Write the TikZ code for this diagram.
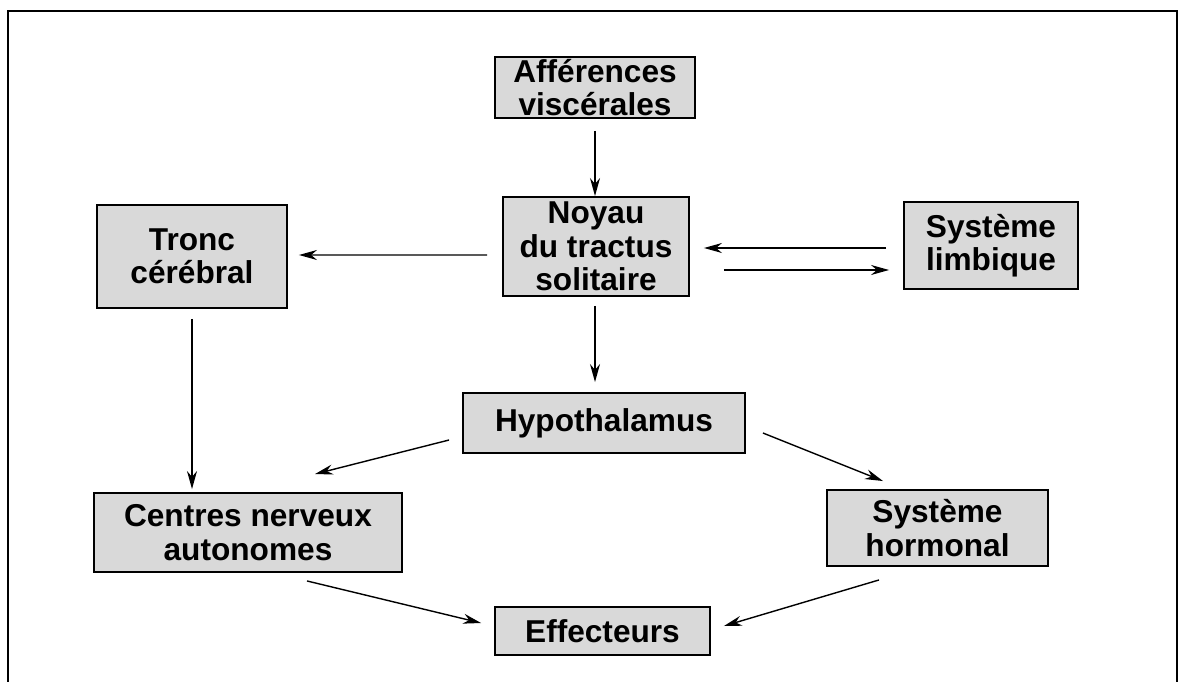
\documentclass[tikz,border=0pt]{standalone}
\usepackage{fontspec}
\setmainfont{Liberation Sans}
\usetikzlibrary{arrows.meta,calc}
\tikzset{
    BX1/.style ={rectangle, draw=black, line width=1.1pt, fill=black!15, align=center, inner sep=0pt, font=\fontsize{18}{19}\selectfont\bfseries},
    AR1/.style ={line width=0.8pt, -{Stealth[length=0.36cm,width=0.2cm]}}
}

\begin{document}
\begin{tikzpicture}[x=0.02cm,y=-0.02cm]
        \useasboundingbox (0,0) rectangle (1179,682);
        \draw[line width=1pt] (8,682)--(8,11)--(1177,11)--(1177,682);
        \node[BX1, minimum width=4cm, minimum height=1.22cm] (aff) at (595,87.5) {Afférences\\viscérales};
        \node[BX1, minimum width=3.72cm, minimum height=1.98cm] (noyau) at (596,246.5) {Noyau\\du tractus\\solitaire};
        \node[BX1, minimum width=3.48cm, minimum height=1.74cm] (limb) at (991,245.5) {Système\\limbique};
        \node[BX1, minimum width=3.8cm, minimum height=2.06cm] (tronc) at (192,256.5) {Tronc\\cérébral};
        \node[BX1, minimum width=5.64cm, minimum height=1.2cm] (hypo) at (604,423) {Hypothalamus};
        \node[BX1, minimum width=6.16cm, minimum height=1.58cm] (centres) at (248,532.5) {Centres nerveux\\autonomes};
        \node[BX1, minimum width=4.42cm, minimum height=1.52cm] (horm) at (937.5,528) {Système\\hormonal};
        \node[BX1, minimum width=4.3cm, minimum height=0.96cm] (eff) at (602.5,631) {Effecteurs};
        \draw[AR1] ($(aff.south)+(0,12)$) -- (aff.south |- noyau.north);
        \draw[AR1] ($(noyau.west)+(-15,8.5)$) -- ($(tronc.east)+(11,-1.5)$);
        \draw[AR1] ($(limb.west)+(-17,2.5)$) -- ($(noyau.east)+(14,1.5)$);
        \draw[AR1] ($(noyau.east)+(34,23.5)$) -- ($(limb.west)+(-14,24.5)$);
        \draw[AR1] ($(noyau.south)+(-1,9)$) -- ($(hypo.north)+(-9,-10)$);
        \draw[AR1] ($(tronc.south)+(0,10)$) -- ($(centres.north)+(-56,-3)$);
        \draw[AR1] ($(hypo.west)+(-13,17)$) -- ($(centres.north)+(67,-18)$);
        \draw[AR1] ($(hypo.east)+(17,10)$) -- ($(horm.north)+(-54.5,-8)$);
        \draw[AR1] ($(centres.south)+(59,8)$) -- ($(eff.west)+(-13,-8)$);
        \draw[AR1] ($(horm.south)+(-58.5,13)$) -- ($(eff.east)+(13,-5)$);
    \end{tikzpicture}
\end{document}
